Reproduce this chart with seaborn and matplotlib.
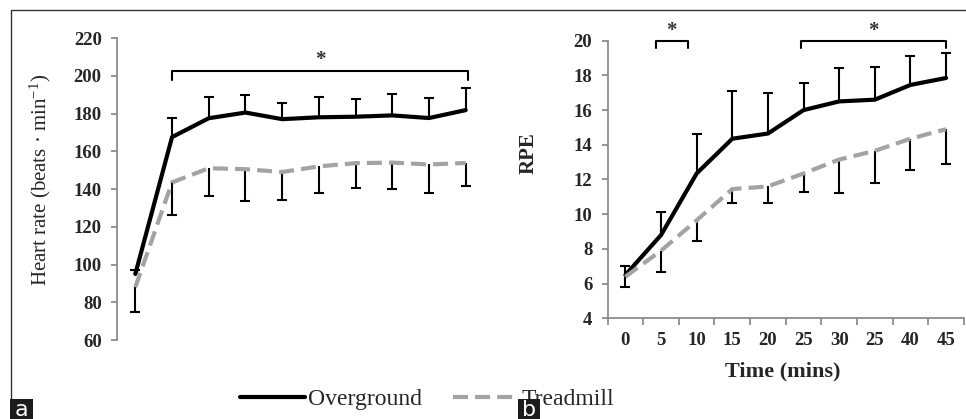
import numpy as np
import pandas as pd
import matplotlib
matplotlib.use('Agg')
import matplotlib.pyplot as plt
from matplotlib.lines import Line2D
from matplotlib.patches import Rectangle
import seaborn as sns

# -----------------------------------------------
# Data
# -----------------------------------------------
time_labels = ['0', '5', '10', '15', '20', '25', '30', '25', '40', '45']
conditions = ['Overground', 'Treadmill']

# panel a: heart rate, beats/min
hr_overground = [95, 167.5, 177.5, 180.5, 177, 178, 178.3, 179, 177.6, 181.8]
hr_overground_sd = [2.3, 10, 11.5, 9.2, 8.6, 10.5, 9.2, 11.3, 10.4, 11.5]
hr_treadmill = [88, 143.5, 151, 150.5, 149, 152, 153.7, 154, 153, 153.8]
hr_treadmill_sd = [13.4, 17.3, 14.9, 17, 14.8, 14.3, 12.9, 13.8, 15, 12.2]

# panel b: RPE
rpe_overground = [6.5, 8.8, 12.35, 14.35, 14.65, 16.0, 16.5, 16.6, 17.45, 17.85]
rpe_overground_sd = [0.5, 1.3, 2.25, 2.75, 2.35, 1.55, 1.95, 1.9, 1.65, 1.45]
rpe_treadmill = [6.4, 7.9, 9.65, 11.45, 11.6, 12.35, 13.15, 13.65, 14.35, 14.9]
rpe_treadmill_sd = [0.6, 1.25, 1.2, 0.8, 0.95, 1.05, 1.95, 1.85, 1.8, 2.0]

# -----------------------------------------------
# Style
# -----------------------------------------------
sns.set_style('white')
plt.rcParams['font.family'] = ['Liberation Serif', 'DejaVu Serif']
plt.rcParams['mathtext.fontset'] = 'custom'
plt.rcParams['mathtext.rm'] = 'Liberation Serif'
plt.rcParams['mathtext.it'] = 'Liberation Serif:italic'
plt.rcParams['mathtext.bf'] = 'Liberation Serif:bold'

GREY_AXIS = '#8c8c8c'
colors = {'Overground': 'black', 'Treadmill': '#a3a3a3'}
dash_map = {'Overground': '', 'Treadmill': (3.6, 1.7)}

fig = plt.figure(figsize=(9.66, 4.19), dpi=100)
ax1 = fig.add_axes([0.1211, 0.1885, 0.380, 0.7208])
ax2 = fig.add_axes([0.629, 0.2403, 0.3688, 0.6626])


def draw_panel(ax, over, over_sd, tread, tread_sd):
    n = len(time_labels)
    pos = np.arange(n) + 0.5
    over, over_sd = np.array(over), np.array(over_sd)
    tread, tread_sd = np.array(tread), np.array(tread_sd)

    # one-sided error bars: up for overground, down for treadmill
    ax.vlines(pos, over, over + over_sd, color='black', lw=1.5, zorder=2)
    ax.plot(pos, over + over_sd, ls='none', marker='_', ms=7.5, mew=1.5,
            color='black', zorder=2)
    ax.vlines(pos, tread - tread_sd, tread, color='black', lw=1.5, zorder=2)
    ax.plot(pos, tread - tread_sd, ls='none', marker='_', ms=7.5, mew=1.5,
            color='black', zorder=2)

    df = pd.DataFrame({
        'pos': np.concatenate([pos, pos]),
        'value': np.concatenate([over, tread]),
        'Condition': [conditions[0]] * n + [conditions[1]] * n,
    })
    sns.lineplot(data=df, x='pos', y='value', hue='Condition', style='Condition',
                 palette=colors, dashes=dash_map, linewidth=3, legend=False,
                 ax=ax, zorder=3)
    ax.set_xlim(0, n)
    ax.set_xlabel('')
    ax.set_ylabel('')
    ax.spines['top'].set_visible(False)
    ax.spines['right'].set_visible(False)
    for s in ['left', 'bottom']:
        ax.spines[s].set_color(GREY_AXIS)
        ax.spines[s].set_linewidth(1.3)
    return pos


def bracket(ax, x0, x1, y_top, y_leg, star_y):
    ax.plot([x0, x0, x1, x1], [y_leg, y_top, y_top, y_leg], color='black',
            lw=1.5, clip_on=False, zorder=4)
    ax.text((x0 + x1) / 2, star_y, '*', ha='center', va='center',
            fontsize=15, fontweight='bold', color='#333333')


# -----------------------------------------------
# Panel a: heart rate
# -----------------------------------------------
draw_panel(ax1, hr_overground, hr_overground_sd, hr_treadmill, hr_treadmill_sd)
ax1.spines['bottom'].set_visible(False)
ax1.set_xticks([])
ax1.set_ylim(60, 220)
ax1.set_yticks(range(60, 221, 20))
ax1.tick_params(axis='y', direction='out', length=4, width=1.3, color=GREY_AXIS,
                labelsize=13.5, pad=7, left=True)
for lbl in ax1.get_yticklabels():
    lbl.set_fontweight('bold')
ax1.set_ylabel('Heart rate (beats · min$^{-1}$)', fontsize=15)
ax1.yaxis.set_label_coords(-0.175, 0.53)
bracket(ax1, 1.5, 9.57, 202.6, 198, 208.5)

# -----------------------------------------------
# Panel b: RPE
# -----------------------------------------------
pos = draw_panel(ax2, rpe_overground, rpe_overground_sd, rpe_treadmill, rpe_treadmill_sd)
ax2.set_ylim(4, 20)
ax2.set_yticks(range(4, 21, 2))
ax2.set_xticks(pos)
ax2.set_xticklabels(time_labels)
ax2.set_xticks(np.arange(0, 11), minor=True)
ax2.tick_params(axis='x', which='major', length=0, labelsize=13.5, pad=10)
ax2.tick_params(axis='x', which='minor', direction='out', length=5, width=1.3,
                color=GREY_AXIS, bottom=True)
ax2.tick_params(axis='y', direction='out', length=4, width=1.3, color=GREY_AXIS,
                labelsize=13.5, pad=7, left=True)
for lbl in ax2.get_yticklabels() + ax2.get_xticklabels():
    lbl.set_fontweight('bold')
ax2.set_ylabel('RPE', fontsize=15, fontweight='bold')
ax2.yaxis.set_label_coords(-0.195, 0.595)
ax2.set_xlabel('Time (mins)', fontsize=16, fontweight='bold')
ax2.xaxis.set_label_coords(0.492, -0.155)
bracket(ax2, 1.35, 2.25, 20.0, 19.6, 20.55)
bracket(ax2, 5.42, 9.49, 20.0, 19.6, 20.55)

# -----------------------------------------------
# Legend, frame and panel tags
# -----------------------------------------------
handles = [Line2D([], [], color=colors['Overground'], lw=3),
           Line2D([], [], color=colors['Treadmill'], lw=3, dashes=(3.6, 1.7))]
fig.legend(handles, conditions, loc='center left', bbox_to_anchor=(240 / 966, 1 - 399 / 419),
           ncol=2, frameon=False, fontsize=17, handlelength=2.75, handletextpad=0.15,
           columnspacing=1.3, borderpad=0, borderaxespad=0)

fig.add_artist(Line2D([10.5 / 966, 10.5 / 966, 1], [1 - 400 / 419, 1 - 10 / 419, 1 - 10 / 419],
                      transform=fig.transFigure, color='#333333', lw=1))
for tag, x0, w in [('a', 10, 23), ('b', 518, 22)]:
    fig.add_artist(Rectangle((x0 / 966, 0), w / 966, 20 / 419, transform=fig.transFigure,
                             facecolor='#1c1c1c', edgecolor='none', zorder=10))
    fig.text((x0 + w / 2) / 966, 9 / 419, tag, ha='center', va='center', color='white',
             fontsize=16, family='DejaVu Sans', zorder=11)

plt.savefig('out.png', dpi=100)
